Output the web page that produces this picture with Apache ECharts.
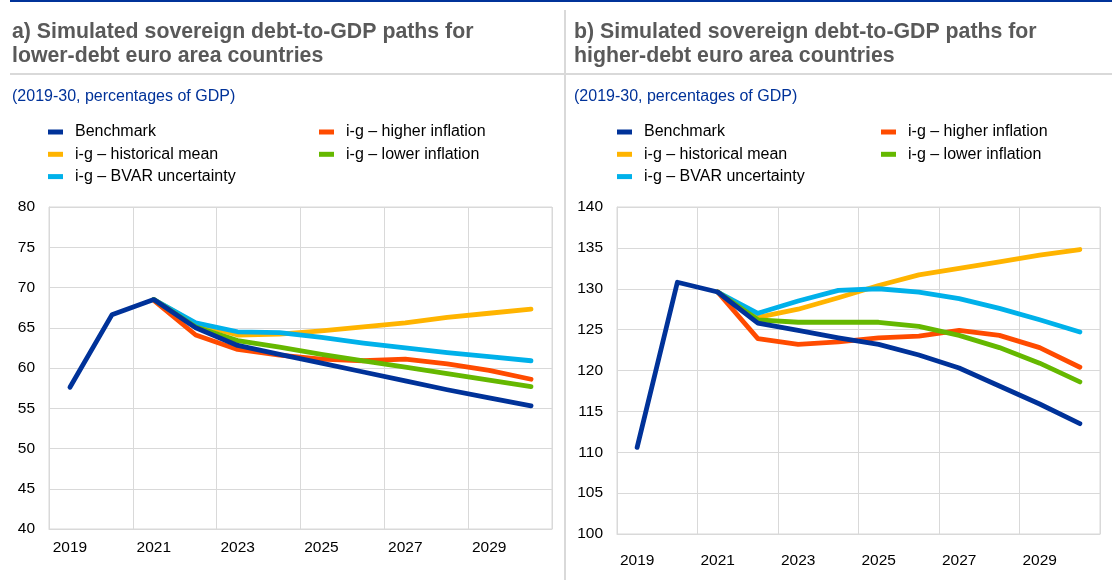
<!DOCTYPE html>
<html>
<head>
<meta charset="utf-8">
<title>Simulated sovereign debt-to-GDP paths</title>
<script src="https://cdn.jsdelivr.net/npm/echarts@6/dist/echarts.min.js"></script>
<style>
  html, body { margin: 0; padding: 0; background: #ffffff; }
  #chart { width: 1112px; height: 580px; }
</style>
</head>
<body>
<div id="chart"></div>
<script>
const years = ['2019', '2020', '2021', '2022', '2023', '2024', '2025', '2026', '2027', '2028', '2029', '2030'];

// a) lower-debt countries
const lowBenchmark = [57.6, 66.6, 68.5, 65.0, 62.8, 61.7, 60.6, 59.5, 58.4, 57.3, 56.3, 55.3];
const lowHistMean = ['-', '-', 68.5, 65.5, 64.1, 64.2, 64.6, 65.1, 65.6, 66.3, 66.8, 67.3];
const lowBvar = ['-', '-', 68.5, 65.6, 64.5, 64.4, 63.8, 63.1, 62.5, 61.9, 61.4, 60.9];
const lowHigherInfl = ['-', '-', 68.4, 64.1, 62.3, 61.6, 61.1, 60.9, 61.1, 60.5, 59.7, 58.6];
const lowLowerInfl = ['-', '-', 68.5, 65.1, 63.4, 62.6, 61.7, 60.9, 60.1, 59.3, 58.5, 57.7];

// b) higher-debt countries
const highBenchmark = [110.6, 130.8, 129.6, 125.8, 124.9, 124.0, 123.2, 121.9, 120.3, 118.1, 115.9, 113.5];
const highHistMean = ['-', '-', 129.6, 126.5, 127.5, 128.9, 130.4, 131.7, 132.5, 133.3, 134.1, 134.8];
const highBvar = ['-', '-', 129.6, 127.0, 128.5, 129.8, 130.0, 129.6, 128.8, 127.6, 126.2, 124.7];
const highHigherInfl = ['-', '-', 129.6, 123.9, 123.2, 123.5, 124.0, 124.2, 124.9, 124.3, 122.8, 120.4];
const highLowerInfl = ['-', '-', 129.6, 126.2, 125.9, 125.9, 125.9, 125.4, 124.3, 122.8, 120.9, 118.6];

const names = ['Benchmark', 'i-g \u2013 historical mean', 'i-g \u2013 BVAR uncertainty', 'i-g \u2013 higher inflation', 'i-g \u2013 lower inflation'];
const colors = ['#003299', '#ffb400', '#00b1ea', '#ff4b00', '#65b800'];

const font = 'Arial, "Liberation Sans", sans-serif';
const gridColor = '#d9d9d9';

const chart = echarts.init(document.getElementById('chart'));

const makeX = (idx, margin) => ({
  type: 'category',
  gridIndex: idx,
  data: years,
  boundaryGap: true,
  axisLine: { lineStyle: { color: gridColor } },
  axisTick: { show: false },
  axisLabel: { interval: 1, margin: margin, color: '#000', fontSize: 15.5, fontFamily: font },
  splitLine: { show: true, interval: 1, lineStyle: { color: gridColor } }
});

const makeY = (idx, min, max) => ({
  type: 'value',
  gridIndex: idx,
  min: min,
  max: max,
  interval: 5,
  axisLine: { show: true, lineStyle: { color: gridColor } },
  axisTick: { show: false },
  axisLabel: { margin: 14, color: '#000', fontSize: 15.5, fontFamily: font },
  splitLine: { lineStyle: { color: gridColor } }
});

const makeLine = (nameIdx, gridIdx, data) => ({
  name: names[nameIdx],
  type: 'line',
  xAxisIndex: gridIdx,
  yAxisIndex: gridIdx,
  data: data,
  color: colors[nameIdx],
  symbol: 'none',
  smooth: false,
  lineStyle: { width: 4.8, color: colors[nameIdx], cap: 'round', join: 'round' },
  itemStyle: { color: colors[nameIdx] },
  z: 2
});

const makeLegend = (left, top, data) => ({
  orient: 'vertical',
  left: left,
  top: top,
  padding: 0,
  itemGap: 6.3,
  itemWidth: 15,
  itemHeight: 5,
  icon: 'rect',
  selectedMode: false,
  data: data,
  textStyle: { color: '#000', fontSize: 16, fontFamily: font, lineHeight: 16, padding: [0, 0, 0, 7] }
});

const titleStyle = { color: '#595959', fontSize: 21.3, fontWeight: 'bold', fontFamily: font, lineHeight: 24 };
const subStyle = { color: '#003299', fontSize: 16, fontWeight: 'normal', fontFamily: font };

const option = {
  animation: false,
  title: [
    { text: 'a) Simulated sovereign debt-to-GDP paths for\nlower-debt euro area countries', left: 12, top: 20, padding: 0, textStyle: titleStyle },
    { text: 'b) Simulated sovereign debt-to-GDP paths for\nhigher-debt euro area countries', left: 574, top: 20, padding: 0, textStyle: titleStyle },
    { text: '(2019-30, percentages of GDP)', left: 12, top: 89, padding: 0, textStyle: subStyle },
    { text: '(2019-30, percentages of GDP)', left: 574, top: 89, padding: 0, textStyle: subStyle }
  ],
  graphic: [
    { type: 'rect', shape: { x: 10, y: 0, width: 1102, height: 2 }, style: { fill: '#003299' } },
    { type: 'rect', shape: { x: 10, y: 73, width: 1102, height: 2 }, style: { fill: gridColor } },
    { type: 'rect', shape: { x: 564, y: 10, width: 2, height: 570 }, style: { fill: gridColor } }
  ],
  legend: [
    makeLegend(48, 124, [names[0], names[1], names[2]]),
    makeLegend(319, 124, [names[3], names[4]]),
    makeLegend(617, 124, [names[0], names[1], names[2]]),
    makeLegend(881, 124, [names[3], names[4]])
  ],
  grid: [
    { left: 49, top: 207, width: 503, height: 322, show: true, borderColor: gridColor, borderWidth: 1 },
    { left: 617, top: 207, width: 483, height: 327, show: true, borderColor: gridColor, borderWidth: 1 }
  ],
  xAxis: [makeX(0, 11), makeX(1, 19)],
  yAxis: [makeY(0, 40, 80), makeY(1, 100, 140)],
  series: [
    makeLine(1, 0, lowHistMean),
    makeLine(2, 0, lowBvar),
    makeLine(3, 0, lowHigherInfl),
    makeLine(4, 0, lowLowerInfl),
    makeLine(0, 0, lowBenchmark),
    makeLine(1, 1, highHistMean),
    makeLine(2, 1, highBvar),
    makeLine(3, 1, highHigherInfl),
    makeLine(4, 1, highLowerInfl),
    makeLine(0, 1, highBenchmark)
  ]
};

chart.setOption(option);
</script>
</body>
</html>
